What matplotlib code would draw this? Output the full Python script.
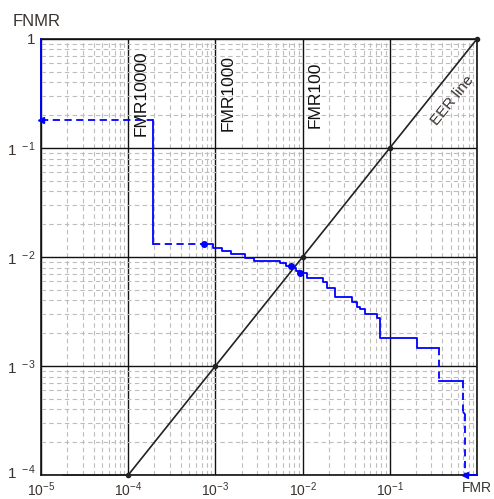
import numpy as np
import matplotlib
matplotlib.use("Agg")
import matplotlib.pyplot as plt
import matplotlib.transforms as mtransforms

plt.rcParams["font.family"] = ["Liberation Sans", "DejaVu Sans"]
plt.rcParams["mathtext.fontset"] = "custom"
plt.rcParams["mathtext.rm"] = "Liberation Sans"
plt.rcParams["mathtext.it"] = "Liberation Sans"

# ---- data ----
# start of the DET curve (sparse part)
head_fmr = [1e-5, 1e-5, 1.93e-4, 1.93e-4, 7.4e-4]
head_fnmr = [1.0, 0.181, 0.181, 0.0132, 0.0132]
head_dashed = [False, True, False, True]

# dense part, step-post points
step_fmr = [7.4e-4, 9.4e-4, 1.19e-3, 1.51e-3, 2.18e-3, 2.77e-3, 5.5e-3, 6.45e-3,
            7.36e-3, 8.4e-3, 9.34e-3, 1.12e-2, 1.71e-2, 1.9e-2, 2.35e-2, 3.69e-2,
            4.21e-2, 4.55e-2, 5.19e-2, 7.13e-2, 7.72e-2, 0.205, 0.366]
step_fnmr = [0.0132, 0.0121, 0.0114, 0.0107, 0.0098, 0.0092, 0.0088, 0.0083,
             0.0079, 0.0074, 0.0071, 0.0064, 0.0059, 0.0052, 0.0043, 0.00387,
             0.00348, 0.00333, 0.0030, 0.00276, 0.00181, 0.00146, 0.00146]

# end of the curve (sparse part)
tail_fmr = [0.366, 0.366, 0.691, 0.691, 0.729, 0.729, 1.0]
tail_fnmr = [0.00146, 0.00073, 0.00073, 0.00038, 0.00036, 1e-4, 1e-4]
tail_dashed = [True, False, True, True, True, False]

dot_fmr = [7.4e-4, 7.36e-3, 9.34e-3]
dot_fnmr = [0.0132, 0.0083, 0.0071]
arrow_fmr = [1e-5, 0.729]
arrow_fnmr = [0.181, 1e-4]

eer_fmr = [1.8e-5, 1e-4, 1e-3, 1e-2, 1e-1, 1.0]
eer_fnmr = [1e-4, 1e-4, 1e-3, 1e-2, 1e-1, 1.0]

fmr_lines = [1e-4, 1e-3, 1e-2]
fmr_names = ["FMR10000", "FMR1000", "FMR100"]
fmr_name_y = [0.79, 0.71, 0.615]

xtick_vals = [1e-5, 1e-4, 1e-3, 1e-2, 1e-1, 1.0]
xtick_labels = [r"$\mathregular{10^{-5}}$", r"$\mathregular{10^{-4}}$", r"$\mathregular{10^{-3}}$",
                r"$\mathregular{10^{-2}}$", r"$\mathregular{10^{-1}}$", "FMR"]
ytick_vals = [1e-4, 1e-3, 1e-2, 1e-1, 1.0]
ytick_labels = [r"$\mathregular{1}\enspace{}^{\mathregular{-4}}$", r"$\mathregular{1}\enspace{}^{\mathregular{-3}}$",
                r"$\mathregular{1}\enspace{}^{\mathregular{-2}}$", r"$\mathregular{1}\enspace{}^{\mathregular{-1}}$", "1"]

blue = "#0000ff"
txt = "#3a3330"
dash = (0, (4, 2.5))

fig = plt.figure(figsize=(4.94, 4.99), dpi=100)
ax = fig.add_axes([0.083, 0.048, 0.8826, 0.874])
ax.set_xscale("log")
ax.set_yscale("log")
ax.set_xlim(1e-5, 1)
ax.set_ylim(1e-4, 1)

# grid
ax.grid(which="minor", color="#bdbdbd", linestyle=(0, (4, 3)), linewidth=0.8)
ax.grid(which="major", color="#111111", linestyle="-", linewidth=1.0)
ax.set_axisbelow(True)
ax.tick_params(which="both", length=0)
for s in ax.spines.values():
    s.set_color("#111111")
    s.set_linewidth(1.2)

ax.set_xticks(xtick_vals)
ax.set_xticklabels(xtick_labels, fontsize=10, color=txt)
ax.set_yticks(ytick_vals)
ax.set_yticklabels(ytick_labels, fontsize=11, color=txt)
ax.tick_params(axis="x", pad=4)
ax.tick_params(axis="y", pad=4)
# lift the lowest y label a little so it clears the x labels
lab = ax.get_yticklabels()[0]
lab.set_transform(lab.get_transform() + mtransforms.ScaledTranslation(0, 3 / 72, fig.dpi_scale_trans))

# EER line
ax.plot(eer_fmr, eer_fnmr, color="#222222", lw=1.2, marker="o", ms=3,
        markevery=[1, 2, 3, 4, 5], clip_on=False, zorder=3)
ax.text(0.53, 0.27, "EER line", rotation=51, rotation_mode="anchor",
        ha="center", va="center", fontsize=11, color=txt)

for xv, name, yv in zip(fmr_lines, fmr_names, fmr_name_y):
    ax.text(xv * 1.4, yv, name, rotation=90, ha="center", va="top",
            fontsize=12.5, color="#111111")

# DET curve
def draw_segments(xs, ys, dashed):
    for i, d in enumerate(dashed):
        ax.plot(xs[i:i + 2], ys[i:i + 2], color=blue, lw=1.3,
                linestyle=dash if d else "-", clip_on=False, zorder=4)

draw_segments(head_fmr, head_fnmr, head_dashed)
ax.plot(step_fmr, step_fnmr, color=blue, lw=1.3, drawstyle="steps-post",
        clip_on=False, zorder=4)
draw_segments(tail_fmr, tail_fnmr, tail_dashed)
ax.plot(dot_fmr, dot_fnmr, "o", color=blue, ms=4, zorder=5, clip_on=False)
ax.plot(arrow_fmr, arrow_fnmr, "<", color=blue, ms=5, zorder=5, clip_on=False)

fig.text(13 / 494, 1 - 21 / 499, "FNMR", fontsize=12, color=txt, va="center", ha="left")

fig.savefig("out.png", dpi=100)
